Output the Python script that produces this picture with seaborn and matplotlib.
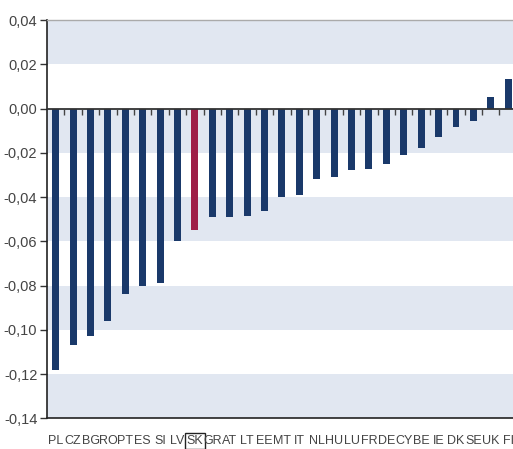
import numpy as np
import pandas as pd
import matplotlib
matplotlib.use("Agg")
import matplotlib.pyplot as plt
import seaborn as sns

countries = ["PL", "CZ", "BG", "RO", "PT", "ES", "SI", "LV", "SK", "GR", "AT", "LT", "EE", "MT",
             "IT", "NL", "HU", "LU", "FR", "DE", "CY", "BE", "IE", "DK", "SE", "UK", "FI"]
values = [-0.118, -0.107, -0.103, -0.096, -0.084, -0.080, -0.079, -0.060, -0.055, -0.049,
          -0.049, -0.0485, -0.0465, -0.040, -0.039, -0.032, -0.031, -0.028, -0.0275, -0.025,
          -0.021, -0.018, -0.013, -0.0085, -0.0055, 0.005, 0.0135]
highlight = "SK"
yticks = [0.04, 0.02, 0.0, -0.02, -0.04, -0.06, -0.08, -0.10, -0.12, -0.14]
bands = [(0.02, 0.04), (-0.02, 0.0), (-0.06, -0.04), (-0.10, -0.08), (-0.14, -0.12)]

navy = "#0d3677"
red = "#b3093f"
band_col = "#e1e7f1"

sns.set_style("white")
plt.rcParams["font.family"] = ["Liberation Sans", "DejaVu Sans"]

df = pd.DataFrame({"country": countries, "value": values})
palette = {c: (red if c == highlight else navy) for c in countries}

fig = plt.figure(figsize=(5.13, 4.49), dpi=100)
ax = fig.add_axes([0.0916, 0.0684, 0.916, 0.887])

for lo, hi in bands:
    ax.axhspan(lo, hi, color=band_col, lw=0, zorder=0)

sns.barplot(data=df, x="country", y="value", hue="country", palette=palette,
            legend=False, width=0.4, linewidth=0, ax=ax, zorder=2)

ax.set_ylim(-0.14, 0.04)
ax.set_xlim(-0.5, len(countries) - 0.5)
ax.axhline(0, color="#333333", lw=1.3, zorder=3)

# small ticks on the zero line between categories
bounds = np.arange(len(countries)) + 0.5
ax.vlines(bounds, -0.0027, 0, color="#444444", lw=1, zorder=3)

ax.set_yticks(yticks)
ax.set_yticklabels([f"{v:.2f}".replace(".", ",").replace("-0,00", "0,00") for v in yticks],
                   fontsize=10.5, color="#444444")
ax.tick_params(axis="y", direction="out", length=5, width=1, color="#333333", left=True, pad=2)
ax.tick_params(axis="x", length=0, pad=12, labelsize=9, colors="#444444")
ax.set_xlabel("")
ax.set_ylabel("")

for side in ["left", "bottom"]:
    ax.spines[side].set_color("#222222")
    ax.spines[side].set_linewidth(1.2)
ax.spines["top"].set_color("#aaaaaa")
ax.spines["top"].set_linewidth(1)
ax.spines["right"].set_visible(False)

for lab in ax.get_xticklabels():
    if lab.get_text() == highlight:
        lab.set_bbox(dict(facecolor="none", edgecolor="#222222", lw=1, pad=1.2))

fig.savefig("out.png", dpi=100)
